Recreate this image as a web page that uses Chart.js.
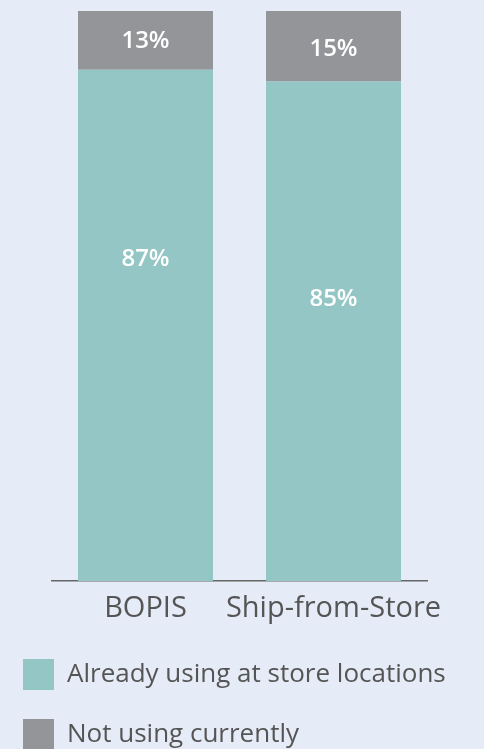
<!DOCTYPE html>
<html>
<head>
<meta charset="utf-8">
<script src="https://cdn.jsdelivr.net/npm/chart.js@4.4.0/dist/chart.umd.min.js"></script>
<style>
  html, body { margin: 0; padding: 0; background: #e6ecf7; }
  #wrap { width: 484px; height: 749px; position: relative; }
</style>
</head>
<body>
<div id="wrap"><canvas id="chart"></canvas></div>
<script>
// data
const categories = ["BOPIS", "Ship-from-Store"];
const seriesNames = ["Already using at store locations", "Not using currently"];
const alreadyUsing = [87, 85];
const notUsing = [13, 15];

// where each value label sits inside its (visible) segment, 0 = top, 1 = bottom
const labelSpot = [[0.37, 0.435], [0.52, 0.54]];

const barLabels = {
  id: 'barLabels',
  afterDatasetsDraw(chart) {
    const ctx = chart.ctx;
    const area = chart.chartArea;
    ctx.save();
    ctx.fillStyle = '#ffffff';
    ctx.font = '600 24px "Open Sans"';
    ctx.textAlign = 'center';
    ctx.textBaseline = 'middle';
    chart.data.datasets.forEach((ds, di) => {
      chart.getDatasetMeta(di).data.forEach((bar, i) => {
        const top = Math.max(bar.y, area.top);
        const bottom = Math.min(bar.base, area.bottom);
        const y = top + (bottom - top) * labelSpot[di][i];
        ctx.fillText(ds.data[i] + '%', bar.x, y);
      });
    });
    ctx.restore();
  }
};

const hiddenAxis = {
  grid: { display: false },
  border: { display: false },
  ticks: { display: false }
};

new Chart(document.getElementById('chart'), {
  type: 'bar',
  data: {
    labels: categories,
    datasets: [{
      label: seriesNames[0],
      data: alreadyUsing,
      backgroundColor: '#93c6c4'
    }, {
      label: seriesNames[1],
      data: notUsing,
      backgroundColor: '#939598'
    }]
  },
  options: {
    responsive: true,
    maintainAspectRatio: false,
    animation: false,
    categoryPercentage: 1,
    barPercentage: 0.718,
    layout: { padding: { top: 11, left: -6, right: 0, bottom: -11 } },
    scales: {
      x: {
        stacked: true,
        grid: { display: false },
        border: { display: true, color: '#666666', width: 1.5 },
        ticks: {
          color: '#555555',
          font: { family: 'Open Sans', size: 29 },
          padding: 2,
          maxRotation: 0,
          minRotation: 0,
          autoSkip: false
        },
        afterFit(scale) { scale.height = 49; }
      },
      y: {
        stacked: true,
        min: 0,
        max: 97,
        ...hiddenAxis,
        afterFit(scale) { scale.width = 57.5; }
      },
      yRight: {
        type: 'linear',
        position: 'right',
        ...hiddenAxis,
        afterFit(scale) { scale.width = 56.5; }
      }
    },
    plugins: {
      tooltip: { enabled: false },
      legend: {
        position: 'bottom',
        align: 'start',
        labels: {
          boxWidth: 31,
          boxHeight: 31,
          padding: 29,
          color: '#555555',
          font: { family: 'Open Sans', size: 26 }
        }
      }
    }
  },
  plugins: [barLabels]
});
</script>
</body>
</html>
